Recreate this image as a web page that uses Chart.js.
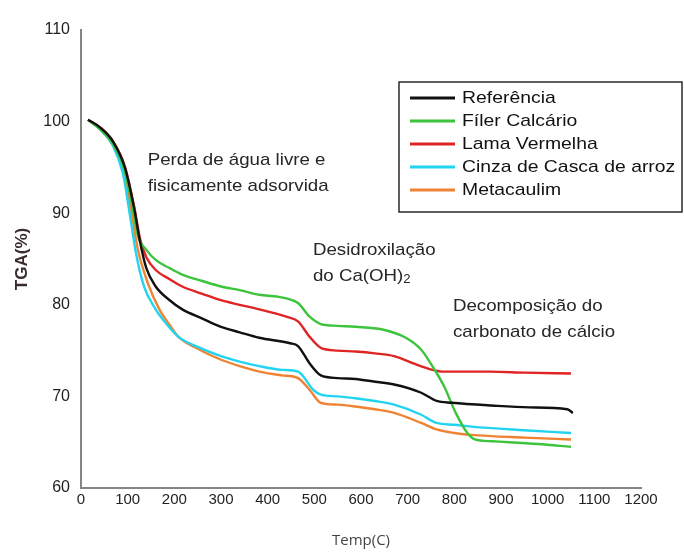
<!DOCTYPE html>
<html>
<head>
<meta charset="utf-8">
<script src="https://cdn.jsdelivr.net/npm/chart.js@4.4.0/dist/chart.umd.min.js"></script>
<style>
    html, body { margin: 0; padding: 0; background: #fff; }
    #wrap { width: 684px; height: 554px; }
</style>
</head>
<body>
<div id="wrap"><canvas id="chartTGA" width="684" height="554"></canvas></div>
<script>
// DATA
const tempReferencia = [15, 40, 69, 94, 114, 126, 140, 160, 190, 217, 260, 300, 340, 382, 448, 465, 490, 514, 550, 588, 630, 671, 729, 762, 795, 880, 960, 1042, 1054];
const tgaReferencia  = [100.2, 99.4, 97.8, 95.0, 90.5, 87.0, 84.0, 82.0, 80.5, 79.5, 78.5, 77.6, 77.0, 76.4, 75.8, 75.5, 73.6, 72.3, 72.0, 71.9, 71.6, 71.3, 70.4, 69.5, 69.3, 69.0, 68.8, 68.6, 68.2];

const tempFiler = [15, 40, 69, 94, 110, 122, 140, 160, 190, 217, 260, 300, 340, 382, 420, 440, 465, 490, 514, 550, 588, 646, 696, 729, 753, 778, 803, 828, 844, 880, 918, 980, 1050];
const tgaFiler  = [100.2, 99.2, 97.5, 94.6, 90.7, 87.5, 86.0, 84.9, 84.0, 83.3, 82.6, 82.0, 81.6, 81.1, 80.9, 80.7, 80.2, 78.7, 77.9, 77.7, 77.6, 77.3, 76.4, 75.1, 73.3, 71.1, 68.2, 66.0, 65.3, 65.1, 65.0, 64.8, 64.5];

const tempLama = [15, 40, 69, 94, 114, 127, 140, 160, 190, 217, 260, 300, 340, 382, 440, 465, 490, 514, 550, 588, 630, 671, 712, 753, 778, 830, 877, 950, 1050];
const tgaLama  = [100.2, 99.4, 97.8, 95.1, 90.7, 87.1, 85.2, 83.8, 82.8, 82.0, 81.2, 80.5, 80.0, 79.5, 78.7, 78.2, 76.5, 75.3, 75.0, 74.9, 74.7, 74.4, 73.6, 72.9, 72.7, 72.7, 72.7, 72.6, 72.5];

const tempCinza = [15, 40, 69, 90, 102, 118, 135, 160, 185, 209, 250, 300, 340, 382, 430, 465, 498, 514, 550, 588, 630, 671, 729, 762, 800, 836, 950, 1050];
const tgaCinza  = [100.2, 99.2, 97.3, 94.3, 90.7, 85.6, 82.0, 79.5, 77.8, 76.5, 75.4, 74.4, 73.8, 73.3, 72.9, 72.7, 70.7, 70.2, 70.0, 69.8, 69.5, 69.1, 68.0, 67.1, 66.9, 66.7, 66.3, 66.0];

const tempMeta = [15, 40, 69, 92, 106, 122, 143, 168, 190, 209, 250, 300, 340, 382, 430, 465, 490, 514, 550, 588, 630, 671, 729, 762, 800, 836, 950, 1050];
const tgaMeta  = [100.2, 99.2, 97.4, 94.4, 90.7, 86.0, 82.4, 79.5, 77.8, 76.5, 75.2, 74.0, 73.3, 72.7, 72.3, 72.0, 70.7, 69.3, 69.1, 68.9, 68.6, 68.2, 67.1, 66.4, 66.0, 65.8, 65.5, 65.3];

const nomes = ['Referência', 'Fíler Calcário', 'Lama Vermelha', 'Cinza de Casca de arroz', 'Metacaulim'];
const cores = ['#111111', '#3cc43c', '#e02424', '#22d4ef', '#ee8433'];
const xTicks = [0, 100, 200, 300, 400, 500, 600, 700, 800, 900, 1000, 1100, 1200];
const yTicks = [60, 70, 80, 90, 100, 110];

// textos das etapas (posição em Temp / TGA)
const anotacoes = [
    { linhas: ['Perda de água livre e', 'fisicamente adsorvida'], t: 143, v: 95.8 },
    { linhas: ['Desidroxilação', 'do Ca(OH)|2'], t: 497, v: 86.0 },
    { linhas: ['Decomposição do', 'carbonato de cálcio'], t: 797, v: 79.8 }
];

function pontos(ts, vs) {
    return ts.map((t, i) => ({ x: t, y: vs[i] }));
}

const series = [
    pontos(tempReferencia, tgaReferencia),
    pontos(tempFiler, tgaFiler),
    pontos(tempLama, tgaLama),
    pontos(tempCinza, tgaCinza),
    pontos(tempMeta, tgaMeta)
];

// texto esticado na horizontal como na figura
function textoLargo(ctx, txt, x, y, esticar) {
    ctx.save();
    ctx.translate(x, y);
    ctx.scale(esticar, 1);
    if (txt.includes('|')) {
        const partes = txt.split('|');
        ctx.fillText(partes[0], 0, 0);
        const w = ctx.measureText(partes[0]).width;
        const f = ctx.font;
        ctx.font = f.replace(/\d+px/, '12px');
        ctx.fillText(partes[1], w, 4);
        ctx.font = f;
    } else {
        ctx.fillText(txt, 0, 0);
    }
    ctx.restore();
}

const extras = {
    id: 'extras',
    afterDraw(chart) {
        const ctx = chart.ctx;
        const xs = chart.scales.x;
        const ys = chart.scales.y;

        // anotações
        ctx.save();
        ctx.fillStyle = '#262626';
        ctx.font = '17px "Liberation Sans", Arial, sans-serif';
        ctx.textBaseline = 'middle';
        ctx.textAlign = 'left';
        anotacoes.forEach(a => {
            const px = xs.getPixelForValue(a.t);
            const py = ys.getPixelForValue(a.v);
            a.linhas.forEach((l, i) => textoLargo(ctx, l, px, py + i * 26, 1.1));
        });
        ctx.restore();

        // legenda
        const bx = 399, by = 82, bw = 283, bh = 130;
        ctx.save();
        ctx.fillStyle = '#fff';
        ctx.fillRect(bx, by, bw, bh);
        ctx.strokeStyle = '#2a2a2a';
        ctx.lineWidth = 1.5;
        ctx.strokeRect(bx, by, bw, bh);
        ctx.font = '17px "Liberation Sans", Arial, sans-serif';
        ctx.textBaseline = 'middle';
        chart.data.datasets.forEach((ds, i) => {
            const yy = by + 16 + i * 23;
            ctx.strokeStyle = ds.borderColor;
            ctx.lineWidth = 3;
            ctx.beginPath();
            ctx.moveTo(bx + 11, yy);
            ctx.lineTo(bx + 56, yy);
            ctx.stroke();
            ctx.fillStyle = '#111';
            textoLargo(ctx, ds.label, bx + 63, yy, 1.14);
        });
        ctx.restore();
    }
};

new Chart(document.getElementById('chartTGA'), {
    type: 'line',
    data: {
        datasets: series.map((s, i) => ({
            label: nomes[i],
            data: s,
            borderColor: cores[i],
            backgroundColor: cores[i],
            borderWidth: 2.4,
            pointRadius: 0,
            cubicInterpolationMode: 'monotone',
            fill: false
        }))
    },
    options: {
        responsive: false,
        animation: false,
        layout: { padding: { top: 30, right: 43, left: 0, bottom: 0 } },
        plugins: {
            legend: { display: false },
            tooltip: { enabled: false }
        },
        scales: {
            x: {
                type: 'linear',
                min: 0,
                max: 1200,
                afterFit: s => { s.height = 66; },
                afterBuildTicks: s => { s.ticks = xTicks.map(v => ({ value: v })); },
                grid: { display: false, drawTicks: false },
                border: { color: '#858585', width: 2 },
                ticks: {
                    padding: 3,
                    maxRotation: 0,
                    autoSkip: false,
                    color: '#222',
                    callback: v => String(v),
                    font: { family: '"Liberation Sans", Arial, sans-serif', size: 15 }
                },
                title: {
                    display: true,
                    text: 'Temp(C)',
                    color: '#444',
                    padding: { top: 0, bottom: 4 },
                    font: { family: '"Open Sans", sans-serif', size: 15 }
                }
            },
            y: {
                min: 60,
                max: 110,
                afterFit: s => { s.width = 81; },
                afterBuildTicks: s => { s.ticks = yTicks.map(v => ({ value: v })); },
                grid: { display: false, drawTicks: false },
                border: { color: '#858585', width: 2 },
                ticks: {
                    padding: 11,
                    color: '#222',
                    callback: v => String(v),
                    font: { family: '"Liberation Sans", Arial, sans-serif', size: 16 }
                },
                title: {
                    display: true,
                    text: 'TGA(%)',
                    color: '#3a2c2c',
                    padding: { top: 12, bottom: 0 },
                    font: { family: '"Liberation Sans", Arial, sans-serif', size: 17, weight: 'bold' }
                }
            }
        }
    },
    plugins: [extras]
});
</script>
</body>
</html>
